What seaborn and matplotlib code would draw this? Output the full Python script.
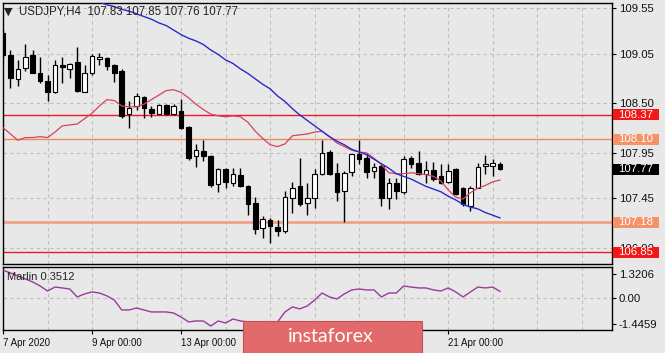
import numpy as np
import pandas as pd
import matplotlib
matplotlib.use("Agg")
import matplotlib.pyplot as plt
import seaborn as sns
from matplotlib.patches import Rectangle

# ---------------- data ----------------
opens = [109.28, 109.03, 108.77, 108.89, 109.03, 108.84, 108.75, 108.62, 108.92, 108.88,
         108.96, 108.63, 108.83, 108.99, 109.00, 108.92, 108.86, 108.38, 108.47, 108.57,
         108.44, 108.38, 108.48, 108.38, 108.41, 108.24, 107.92, 107.97, 107.92, 107.61,
         107.77, 107.62, 107.71, 107.58, 107.39, 107.12, 107.21, 107.13, 107.08, 107.45,
         107.58, 107.39, 107.45, 107.72, 107.96, 107.73, 107.53, 107.74, 107.94, 107.89,
         107.75, 107.81, 107.45, 107.62, 107.52, 107.89, 107.84, 107.72, 107.76, 107.69,
         107.63, 107.77, 107.56, 107.36, 107.56, 107.81, 107.81, 107.83]
highs = [109.31, 109.09, 108.98, 109.16, 109.09, 109.01, 108.81, 108.98, 109.01, 108.95,
         109.12, 108.92, 109.05, 109.06, 109.01, 108.94, 108.88, 108.52, 108.61, 108.58,
         108.47, 108.49, 108.49, 108.49, 108.55, 108.25, 108.05, 108.09, 107.93, 107.78,
         107.78, 107.78, 107.78, 107.59, 107.46, 107.25, 107.23, 107.21, 107.53, 107.63,
         107.89, 107.62, 107.77, 108.09, 107.98, 107.84, 107.75, 107.94, 108.09, 107.95,
         107.84, 107.83, 107.67, 107.67, 107.92, 107.92, 107.97, 107.86, 107.85, 107.83,
         107.83, 107.78, 107.57, 107.58, 107.84, 107.93, 107.88, 107.85]
lows = [109.01, 108.67, 108.69, 108.86, 108.83, 108.72, 108.52, 108.61, 108.72, 108.78,
        108.62, 108.62, 108.81, 108.92, 108.87, 108.73, 108.34, 108.23, 108.42, 108.34,
        108.35, 108.38, 108.37, 108.37, 108.22, 107.87, 107.79, 107.86, 107.57, 107.52,
        107.56, 107.58, 107.57, 107.26, 107.05, 107.01, 106.95, 107.03, 107.06, 107.29,
        107.36, 107.26, 107.34, 107.71, 107.71, 107.42, 107.18, 107.69, 107.83, 107.67,
        107.67, 107.36, 107.33, 107.44, 107.49, 107.78, 107.71, 107.62, 107.64, 107.61,
        107.62, 107.48, 107.36, 107.31, 107.56, 107.72, 107.69, 107.76]
closes = [109.03, 108.78, 108.88, 109.01, 108.84, 108.75, 108.63, 108.92, 108.90, 108.94,
          108.64, 108.83, 109.02, 109.01, 108.91, 108.84, 108.36, 108.45, 108.58, 108.45,
          108.39, 108.48, 108.38, 108.47, 108.23, 107.89, 107.98, 107.92, 107.59, 107.77,
          107.63, 107.72, 107.58, 107.38, 107.11, 107.22, 107.14, 107.09, 107.46, 107.56,
          107.38, 107.45, 107.72, 107.95, 107.72, 107.52, 107.73, 107.94, 107.88, 107.74,
          107.79, 107.45, 107.62, 107.53, 107.88, 107.83, 107.72, 107.76, 107.66, 107.62,
          107.75, 107.49, 107.38, 107.56, 107.79, 107.82, 107.84, 107.77]

# fast moving average (red), read per bar
ma_fast = [108.23, 108.16, 108.09, 108.12, 108.12, 108.13, 108.12, 108.18, 108.25, 108.26,
           108.27, 108.33, 108.39, 108.47, 108.54, 108.53, 108.47, 108.46, 108.46, 108.49,
           108.54, 108.59, 108.64, 108.65, 108.62, 108.56, 108.49, 108.43, 108.38, 108.36,
           108.35, 108.36, 108.35, 108.29, 108.19, 108.11, 108.04, 108.02, 108.05, 108.14,
           108.15, 108.16, 108.18, 108.19, 108.13, 108.06, 108.02, 107.98, 107.96, 107.95,
           107.89, 107.82, 107.73, 107.72, 107.72, 107.73, 107.72, 107.71, 107.69, 107.64,
           107.54, 107.46, 107.44, 107.51, 107.56, 107.59, 107.63, 107.65]

# slow moving average (blue), visible from bar 12 onward
ma_slow_start = 12
ma_slow = [109.64, 109.62, 109.59, 109.57, 109.54, 109.52, 109.49, 109.46, 109.43, 109.39,
           109.36, 109.31, 109.26, 109.22, 109.19, 109.15, 109.09, 109.04, 108.98, 108.94,
           108.88, 108.83, 108.77, 108.71, 108.66, 108.58, 108.52, 108.44, 108.37, 108.31,
           108.25, 108.19, 108.13, 108.08, 108.04, 107.99, 107.96, 107.93, 107.88, 107.83,
           107.78, 107.72, 107.69, 107.66, 107.62, 107.58, 107.55, 107.52, 107.47, 107.43,
           107.38, 107.35, 107.33, 107.29, 107.26, 107.23]

# Marlin oscillator
marlin = [1.54, 1.38, 1.21, 1.05, 0.88, 0.66, 0.38, 0.60, 0.55, 0.49,
          0.05, 0.22, 0.33, 0.27, 0.11, -0.12, -0.67, -0.67, -0.56, -0.67,
          -0.78, -0.78, -0.78, -0.84, -1.06, -1.33, -1.28, -1.28, -1.56, -1.28,
          -1.39, -1.17, -1.28, -1.33, -1.44, -1.39, -1.44, -1.33, -0.78, -0.50,
          -0.61, -0.45, -0.12, 0.27, 0.05, -0.06, 0.22, 0.44, 0.49, 0.44,
          0.44, 0.05, 0.27, 0.27, 0.66, 0.60, 0.55, 0.55, 0.44, 0.38,
          0.55, 0.33, 0.05, 0.33, 0.60, 0.55, 0.60, 0.35]

levels = [108.37, 108.10, 107.18, 106.85]
level_colors = ["#EC1C24", "#F2875A", "#F0A386", "#EC1C24"]
level_widths = [1.0, 1.0, 2.0, 1.0]
label_box_colors = ["#F21818", "#F59368", "#F59368", "#F21818"]
last_price = 107.77

price_ticks = [109.55, 109.05, 108.50, 107.95, 107.45, 106.90]
price_tick_labels = ["109.55", "109.05", "108.50", "107.95", "107.45", "106.90"]
marlin_ticks = [1.3206, 0.0, -1.4459]
marlin_tick_labels = ["1.3206", "0.00", "-1.4459"]
date_tick_bars = [0, 12, 24, 36, 48, 60]
date_tick_labels = ["7 Apr 2020", "9 Apr 00:00", "13 Apr 00:00", "15 Apr 00:00",
                    "17 Apr 00:00", "21 Apr 00:00"]
header = "USDJPY,H4  107.83 107.85 107.76 107.77"
marlin_title = "Marlin 0.3512"

# ---------------- styling ----------------
sns.set_theme(style="white")
plt.rcParams["font.family"] = ["Liberation Sans", "DejaVu Sans"]
BG = "#E8E8E8"
GRID = "#BDBDBD"

W, H = 665, 353
fig = plt.figure(figsize=(W / 100, H / 100), dpi=100, facecolor=BG)

def px_axes(x0, y0, x1, y1):
    return fig.add_axes([x0 / W, 1 - y1 / H, (x1 - x0) / W, (y1 - y0) / H])

ax = px_axes(3, 3, 612, 264)
axm = px_axes(3, 267, 612, 330)

n = len(opens)
idx = np.arange(n)
df = pd.DataFrame({"bar": idx, "open": opens, "high": highs, "low": lows,
                   "close": closes, "ma_fast": ma_fast, "marlin": marlin})
slow_df = pd.DataFrame({"bar": np.arange(ma_slow_start, ma_slow_start + len(ma_slow)),
                        "ma_slow": ma_slow})

XMAX = 82.07
for a in (ax, axm):
    a.set_facecolor(BG)
    a.set_xlim(0, XMAX)
    for s in a.spines.values():
        s.set_color("black")
        s.set_linewidth(1.0)
        s.set_visible(True)
    for gx in range(0, 83, 6):
        a.axvline(gx, color=GRID, lw=0.8, ls=(0, (3, 3)), zorder=0.5)

ax.set_ylim(106.72, 109.61)
for p in price_ticks:
    ax.axhline(p, color=GRID, lw=0.8, ls=(0, (3, 3)), zorder=0.5)

# level lines
for lv, c, lw in zip(levels, level_colors, level_widths):
    ax.axhline(lv, color=c, lw=lw, zorder=1.5)

# candles
up = df["close"] >= df["open"]
ax.vlines(df["bar"], df["low"], df["high"], color="black", lw=1.0, zorder=3)
body_low = np.minimum(df["open"], df["close"])
body_h = np.maximum(np.abs(df["close"] - df["open"]), 0.012)
ax.bar(df["bar"], body_h, bottom=body_low, width=0.62,
       color=np.where(up, "white", "black"), edgecolor="black", linewidth=0.8, zorder=4)

# moving averages
sns.lineplot(data=df, x="bar", y="ma_fast", ax=ax, color="#D8425C", lw=0.9, zorder=5)
sns.lineplot(data=slow_df, x="bar", y="ma_slow", ax=ax, color="#2A2ACC", lw=1.0, zorder=5)

ax.set_xlabel("")
ax.set_ylabel("")
ax.set_xticks([])
ax.yaxis.tick_right()
ax.set_yticks(price_ticks)
ax.set_yticklabels(price_tick_labels)
ax.tick_params(axis="y", right=True, length=3, width=0.8, color="black",
               labelsize=8.2, labelcolor="#111111", pad=2)

# right-side price boxes
ytr = ax.get_yaxis_transform()
box_h = 11 / 90.3
for lv, bc in zip(levels + [last_price], label_box_colors + ["black"]):
    ax.add_patch(Rectangle((1.0016, lv - box_h / 2), 0.0755, box_h, transform=ytr,
                           facecolor=bc, edgecolor="none", clip_on=False, zorder=6))
    ax.text(1.0095, lv, f"{lv:.2f}", transform=ytr, ha="left", va="center",
            fontsize=8.2, color="white", zorder=7, clip_on=False)

# ---------------- Marlin sub panel ----------------
axm.set_ylim(-1.78, 1.71)
axm.axhline(0, color=GRID, lw=0.8, ls=(0, (3, 3)), zorder=0.5)
sns.lineplot(data=df, x="bar", y="marlin", ax=axm, color="#9B3B9B", lw=1.0, zorder=3)
axm.set_xlabel("")
axm.set_ylabel("")
axm.yaxis.tick_right()
axm.set_yticks(marlin_ticks)
axm.set_yticklabels(marlin_tick_labels)
axm.tick_params(axis="y", right=True, length=3, width=0.8, color="black",
                labelsize=8.2, labelcolor="#111111", pad=2)
axm.set_xticks(date_tick_bars)
axm.set_xticklabels(date_tick_labels, ha="left")
axm.tick_params(axis="x", bottom=True, length=3, width=0.8, color="black",
                labelsize=7.0, labelcolor="#111111", pad=3)
axm.text(0.007, 0.84, marlin_title, transform=axm.transAxes, fontsize=8,
         color="#222222", ha="left", va="center", zorder=4)

# header
fig.text(4 / W, 1 - 12 / H, "\u25BC", fontsize=8, color="#222222", va="center", ha="left",
         family=["DejaVu Sans"])
fig.text(19 / W, 1 - 12 / H, header, fontsize=8.3, color="#222222", va="center", ha="left")

# watermark logo
fig.patches.append(Rectangle((243 / W, 0), (422 - 243) / W, (353 - 321) / H,
                             transform=fig.transFigure, facecolor="#E36A6A",
                             edgecolor="#C85050", lw=0.8, zorder=10))
fig.text(331 / W, 1 - 337 / H, "instaforex", fontsize=14, color="white",
         family=["Lato", "DejaVu Sans"], ha="center", va="center", zorder=11)

fig.savefig("out.png", dpi=100, facecolor=BG)
